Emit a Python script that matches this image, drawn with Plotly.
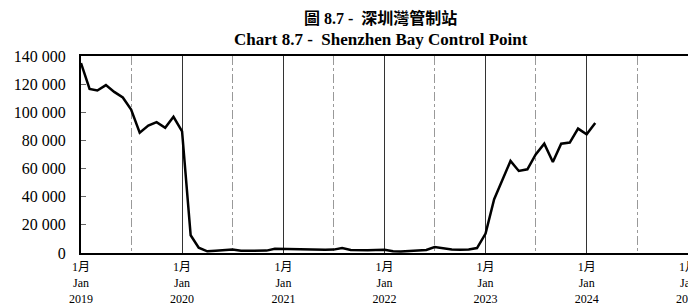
import plotly.graph_objects as go
import pandas as pd

months = pd.date_range("2019-01-01", "2024-02-01", freq="MS").strftime("%Y-%m-%d").tolist()

values = [
    # 2019
    135000, 116600, 115500, 119300, 114500, 110500, 102000, 85500, 90500, 93000, 89000, 96800,
    # 2020
    86500, 12600, 3800, 1200, 1600, 2000, 2400, 1600, 1700, 1600, 1700, 3000,
    # 2021
    2800, 2600, 2500, 2400, 2300, 2300, 2400, 3600, 2200, 1900, 1900, 2100,
    # 2022
    2300, 1300, 1000, 1500, 2000, 2200, 4300, 3200, 2500, 2300, 2500, 3500,
    # 2023
    13800, 38200, 51700, 65400, 58300, 59500, 70000, 77700, 64700, 77700, 78500, 88400,
    # 2024
    84400, 92400,
]

year_ticks = ["2019-01-01", "2020-01-01", "2021-01-01", "2022-01-01", "2023-01-01", "2024-01-01", "2025-01-01"]
year_labels = ["1月<br>Jan<br>2019", "1月<br>Jan<br>2020", "1月<br>Jan<br>2021", "1月<br>Jan<br>2022",
               "1月<br>Jan<br>2023", "1月<br>Jan<br>2024", "1月<br>Jan<br>2025"]
y_ticks = [0, 20000, 40000, 60000, 80000, 100000, 120000, 140000]
y_labels = ["0", "20 000", "40 000", "60 000", "80 000", "100 000", "120 000", "140 000"]

title_zh = "圖 8.7 -  深圳灣管制站"
title_en = "Chart 8.7 -  Shenzhen Bay Control Point"

serif = "Liberation Serif, Times New Roman, Noto Sans CJK TC, serif"

# page has an 8px body margin; figure sized to fit the 696x306 window
W, H = 688, 298
ML, MR, MT, MB = 73, 8, 48, 53

fig = go.Figure()
fig.add_trace(go.Scatter(
    x=months, y=values, mode="lines",
    line=dict(color="black", width=2.5),
    showlegend=False,
))

plot_h = H - MT - MB
def py(px):
    return (H - MB - px) / plot_h

fig.update_layout(
    width=W, height=H,
    margin=dict(l=ML, r=MR, t=MT, b=MB, autoexpand=False),
    paper_bgcolor="white", plot_bgcolor="white",
    font=dict(family=serif, color="black"),
    annotations=[
        dict(text="<b>" + title_zh + "</b>", x=0.494, xref="paper", xanchor="center",
             y=py(10), yref="paper", yanchor="middle", showarrow=False,
             font=dict(family=serif, size=16, color="black")),
        dict(text="<b>" + title_en + "</b>", x=0.494, xref="paper", xanchor="center",
             y=py(32), yref="paper", yanchor="middle", showarrow=False,
             font=dict(family=serif, size=17, color="black")),
    ],
)

fig.update_xaxes(
    type="date",
    range=["2019-01-01", "2025-01-01"],
    tickmode="array", tickvals=year_ticks, ticktext=year_labels,
    tickfont=dict(family=serif, size=12, color="black"),
    showgrid=True, gridcolor="#333333", gridwidth=1,
    showline=True, linecolor="black", linewidth=2, mirror=True,
    ticks="", ticklabelstandoff=2, automargin=False,
    ticklabeloverflow="allow",
    minor=dict(dtick="M6", tick0="2019-01-01", showgrid=True, gridcolor="#999999",
               griddash="dashdot", gridwidth=1),
    zeroline=False,
)

fig.update_yaxes(
    range=[0, 140000],
    tickmode="array", tickvals=y_ticks, ticktext=y_labels,
    tickfont=dict(family=serif, size=16, color="black"),
    showgrid=False,
    showline=True, linecolor="black", linewidth=2, mirror=True,
    ticks="inside", ticklen=5, tickcolor="#666666",
    ticklabelstandoff=10, automargin=False,
    zeroline=False,
)

fig.write_html("out.html")
